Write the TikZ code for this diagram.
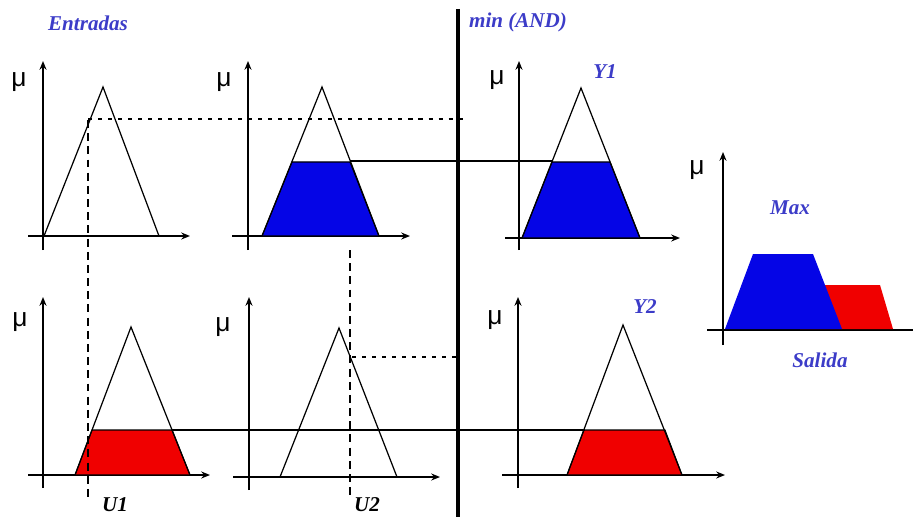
\documentclass[tikz,border=0pt]{standalone}
\usepackage{fontspec}
\setmainfont{Liberation Serif}
\setsansfont{Liberation Sans}
\usepackage{tikz}
\usetikzlibrary{arrows.meta}
\definecolor{labelblue}{RGB}{60,60,200}
\definecolor{setblue}{RGB}{5,5,230}
\definecolor{setred}{RGB}{240,0,0}
\newcommand{\muglyph}{{\sffamily\fontsize{15}{15}\selectfont μ}}

\begin{document}
\begin{tikzpicture}[
    x=0.02cm, y=-0.02cm,
    axis/.style={line width=0.9pt, -{Stealth[length=5pt,width=4pt]}},
    mf/.style={line width=0.7pt},
    cutline/.style={line width=0.7pt},
    blueset/.style={fill=setblue, draw=black, line width=0.6pt},
    redset/.style={fill=setred, draw=black, line width=0.6pt},
    guide/.style={line width=0.8pt, dash pattern=on 4.5pt off 3pt},
    level/.style={line width=0.7pt, dash pattern=on 2.3pt off 3.4pt},
    title/.style={font=\fontsize{12}{12}\selectfont\bfseries\itshape, text=labelblue},
    input/.style={font=\fontsize{12}{12}\selectfont\bfseries\itshape}
  ]
  \useasboundingbox (0,0) rectangle (913,517);

  % headings
  \node[title] (entradas) at (88,23) {Entradas};
  \node[title] (minand) at (518,22) {min (AND)};
  \draw[line width=2.3pt] (458,9) -- (458,517);

  % input 1, rule 1
  \draw[axis] (43,250) -- (43,61);
  \draw[axis] (28,236) -- (190,236);
  \draw[mf] (44,236) -- (103,87) -- (159,236);
  \node (mu11) at (19,82) {\muglyph};

  % input 2, rule 1
  \draw[axis] (248,250) -- (248,61);
  \draw[axis] (232,236) -- (410,236);
  \draw[blueset] (262,236) -- (292,162) -- (350,162) -- (379,236) -- cycle;
  \draw[mf] (262,236) -- (322,87) -- (379,236);
  \node (mu12) at (224,82) {\muglyph};

  % output Y1
  \draw[axis] (519,250) -- (519,61);
  \draw[axis] (505,238) -- (680,238);
  \draw[blueset] (522,238) -- (552,162) -- (610,162) -- (640,238) -- cycle;
  \draw[mf] (522,238) -- (581,88) -- (640,238);
  \node (mu13) at (497,80) {\muglyph};
  \node[title] (y1) at (605,72) {Y1};

  % input 1, rule 2
  \draw[axis] (43,488) -- (43,297);
  \draw[axis] (28,475) -- (210,475);
  \draw[redset] (75,475) -- (92,430) -- (172,430) -- (190,475) -- cycle;
  \draw[mf] (75,475) -- (131,327) -- (190,475);
  \node (mu21) at (20,322) {\muglyph};

  % input 2, rule 2
  \draw[axis] (249,490) -- (249,297);
  \draw[axis] (233,477) -- (440,477);
  \draw[mf] (280,477) -- (339,328) -- (397,477);
  \node (mu22) at (223,327) {\muglyph};

  % output Y2
  \draw[axis] (518,488) -- (518,297);
  \draw[axis] (502,475) -- (725,475);
  \draw[redset] (567,475) -- (584,430) -- (665,430) -- (682,475) -- cycle;
  \draw[mf] (567,475) -- (623,325) -- (682,475);
  \node (mu23) at (495,320) {\muglyph};
  \node[title] (y2) at (645,307) {Y2};

  % min levels carried across
  \draw[level] (88,119) -- (463,119);
  \draw[cutline] (350,161) -- (552,161);
  \draw[level] (352,357) -- (460,357);
  \draw[cutline] (172,430) -- (585,430);

  % crisp inputs
  \draw[guide] (88,120) -- (88,497);
  \draw[guide] (350,250) -- (350,497);
  \node[input] (u1) at (115,505) {U1};
  \node[input] (u2) at (367,505) {U2};

  % aggregated output
  \draw[axis] (723,345) -- (723,152);
  \draw[line width=0.9pt] (707,330) -- (913,330);
  \fill[setred] (800,329) -- (825,285) -- (880,285) -- (893,329) -- cycle;
  \fill[setblue] (725,329) -- (753,254) -- (813,254) -- (842,329) -- cycle;
  \node (mu3) at (697,170) {\muglyph};
  \node[title] (max) at (790,208) {Max};
  \node[title] (salida) at (820,360) {Salida};

\end{tikzpicture}
\end{document}
